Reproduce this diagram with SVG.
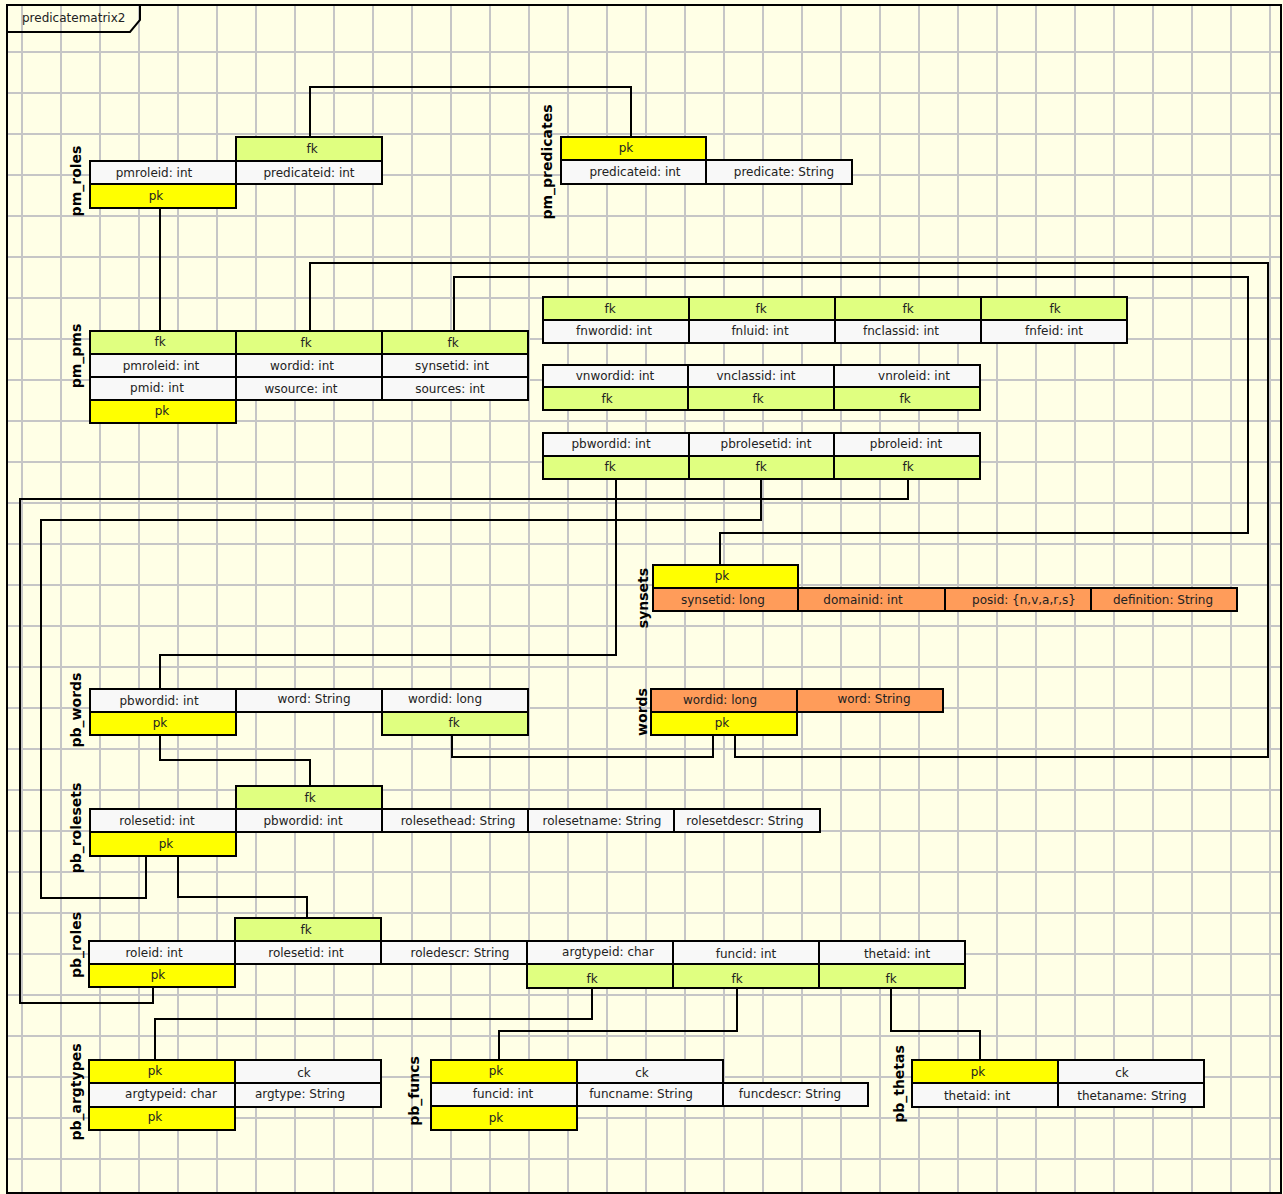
<svg xmlns="http://www.w3.org/2000/svg" width="1283" height="1194" viewBox="0 0 1283 1194">
<style>
rect.c{stroke:#000;stroke-width:2}
.f{fill:#f8f8f8}
.fk{fill:#e0ff80}
.pk{fill:#ffff00}
.o{fill:#ff9c5a}
text{font-family:"DejaVu Sans","Liberation Sans",sans-serif;font-size:12px;fill:#222;text-anchor:middle}
text.lbl{font-weight:bold;font-size:14px;fill:#000}
#grid path{fill:none;stroke:#c6c6c6;stroke-width:2}
#connectors path{fill:none;stroke:#000;stroke-width:2}
</style>
<rect x="0" y="0" width="1283" height="1194" fill="#ffffe6"/>
<g id="grid">
<path d="M22,6V1192M61,6V1192M100,6V1192M139,6V1192M178,6V1192M217,6V1192M256,6V1192M295,6V1192M334,6V1192M373,6V1192M412,6V1192M451,6V1192M490,6V1192M529,6V1192M568,6V1192M607,6V1192M646,6V1192M685,6V1192M724,6V1192M763,6V1192M802,6V1192M841,6V1192M880,6V1192M919,6V1192M958,6V1192M997,6V1192M1036,6V1192M1075,6V1192M1114,6V1192M1153,6V1192M1192,6V1192M1231,6V1192M1270,6V1192"/>
<path d="M8,52H1280M8,93H1280M8,134H1280M8,175H1280M8,216H1280M8,257H1280M8,298H1280M8,339H1280M8,380H1280M8,421H1280M8,462H1280M8,503H1280M8,544H1280M8,585H1280M8,626H1280M8,667H1280M8,708H1280M8,749H1280M8,790H1280M8,831H1280M8,872H1280M8,913H1280M8,954H1280M8,995H1280M8,1036H1280M8,1077H1280M8,1118H1280M8,1159H1280"/>
</g>
<rect x="7" y="5" width="1274" height="1188" fill="none" stroke="#000" stroke-width="2"/>
<path d="M7,5 H140 V20 L130,32 H7" fill="none" stroke="#000" stroke-width="2"/>
<text x="22" y="22" style="text-anchor:start">predicatematrix2</text>

<g id="connectors">
<path d="M310,137 V87 H631 V137"/>
<path d="M160,331 V208"/>
<path d="M310,331 V263 H1268 V757 H735 V735"/>
<path d="M454,331 V277 H1248 V533 H720 V565"/>
<path d="M616,479 V655 H160 V689"/>
<path d="M761,479 V520 H41 V898 H146 V856"/>
<path d="M908,479 V499 H20 V1003 H153 V987"/>
<path d="M452,735 V757 H713 V735"/>
<path d="M160,735 V760 H310 V786"/>
<path d="M178,856 V897 H307 V918"/>
<path d="M592,988 V1019 H155 V1060"/>
<path d="M737,988 V1031 H499 V1060"/>
<path d="M891,988 V1031 H980 V1060"/>
</g>

<g id="pm_roles">
<rect class="c fk" x="236" y="137" width="146" height="24"/><text x="312" y="153">fk</text>
<rect class="c f" x="90" y="161" width="146" height="23"/><text x="154" y="177">pmroleid: int</text>
<rect class="c f" x="236" y="161" width="146" height="23"/><text x="309" y="177">predicateid: int</text>
<rect class="c pk" x="90" y="184" width="146" height="24"/><text x="156" y="200">pk</text>
<text class="lbl" transform="translate(81,181) rotate(-90)">pm_roles</text>
</g>

<g id="pm_predicates">
<rect class="c pk" x="561" y="137" width="145" height="23"/><text x="626" y="152">pk</text>
<rect class="c f" x="561" y="160" width="145" height="24"/><text x="635" y="176">predicateid: int</text>
<rect class="c f" x="706" y="160" width="146" height="24"/><text x="784" y="176">predicate: String</text>
<text class="lbl" transform="translate(552,162) rotate(-90)">pm_predicates</text>
</g>

<g id="pm_pms">
<rect class="c fk" x="90" y="331" width="146" height="23"/><text x="160" y="346">fk</text>
<rect class="c fk" x="236" y="331" width="146" height="23"/><text x="306" y="347">fk</text>
<rect class="c fk" x="382" y="331" width="146" height="23"/><text x="453" y="347">fk</text>
<rect class="c f" x="90" y="354" width="146" height="23"/><text x="161" y="370">pmroleid: int</text>
<rect class="c f" x="236" y="354" width="146" height="23"/><text x="302" y="370">wordid: int</text>
<rect class="c f" x="382" y="354" width="146" height="23"/><text x="452" y="370">synsetid: int</text>
<rect class="c f" x="90" y="377" width="146" height="23"/><text x="157" y="392">pmid: int</text>
<rect class="c f" x="236" y="377" width="146" height="23"/><text x="301" y="393">wsource: int</text>
<rect class="c f" x="382" y="377" width="146" height="23"/><text x="450" y="393">sources: int</text>
<rect class="c pk" x="90" y="400" width="146" height="23"/><text x="162" y="415">pk</text>
<text class="lbl" transform="translate(81,356) rotate(-90)">pm_pms</text>
</g>

<g id="fn_keys">
<rect class="c fk" x="543" y="297" width="146" height="23"/><text x="610" y="313">fk</text>
<rect class="c fk" x="689" y="297" width="146" height="23"/><text x="761" y="313">fk</text>
<rect class="c fk" x="835" y="297" width="146" height="23"/><text x="908" y="313">fk</text>
<rect class="c fk" x="981" y="297" width="146" height="23"/><text x="1055" y="313">fk</text>
<rect class="c f" x="543" y="320" width="146" height="23"/><text x="614" y="335">fnwordid: int</text>
<rect class="c f" x="689" y="320" width="146" height="23"/><text x="760" y="335">fnluid: int</text>
<rect class="c f" x="835" y="320" width="146" height="23"/><text x="901" y="335">fnclassid: int</text>
<rect class="c f" x="981" y="320" width="146" height="23"/><text x="1054" y="335">fnfeid: int</text>
</g>

<g id="vn_keys">
<rect class="c f" x="543" y="365" width="145" height="22"/><text x="615" y="380">vnwordid: int</text>
<rect class="c f" x="688" y="365" width="146" height="22"/><text x="756" y="380">vnclassid: int</text>
<rect class="c f" x="834" y="365" width="146" height="22"/><text x="914" y="380">vnroleid: int</text>
<rect class="c fk" x="543" y="387" width="145" height="23"/><text x="607" y="403">fk</text>
<rect class="c fk" x="688" y="387" width="146" height="23"/><text x="758" y="403">fk</text>
<rect class="c fk" x="834" y="387" width="146" height="23"/><text x="905" y="403">fk</text>
</g>

<g id="pb_keys">
<rect class="c f" x="543" y="433" width="146" height="23"/><text x="611" y="448">pbwordid: int</text>
<rect class="c f" x="689" y="433" width="145" height="23"/><text x="766" y="448">pbrolesetid: int</text>
<rect class="c f" x="834" y="433" width="146" height="23"/><text x="906" y="448">pbroleid: int</text>
<rect class="c fk" x="543" y="456" width="146" height="23"/><text x="610" y="471">fk</text>
<rect class="c fk" x="689" y="456" width="145" height="23"/><text x="761" y="471">fk</text>
<rect class="c fk" x="834" y="456" width="146" height="23"/><text x="908" y="471">fk</text>
</g>

<g id="synsets">
<rect class="c pk" x="653" y="565" width="145" height="23"/><text x="722" y="580">pk</text>
<rect class="c o" x="653" y="588" width="145" height="23"/><text x="723" y="604">synsetid: long</text>
<rect class="c o" x="798" y="588" width="147" height="23"/><text x="863" y="604">domainid: int</text>
<rect class="c o" x="945" y="588" width="146" height="23"/><text x="1024" y="604">posid: {n,v,a,r,s}</text>
<rect class="c o" x="1091" y="588" width="146" height="23"/><text x="1163" y="604">definition: String</text>
<text class="lbl" transform="translate(648,598) rotate(-90)">synsets</text>
</g>

<g id="words">
<rect class="c o" x="651" y="689" width="146" height="23"/><text x="720" y="704">wordid: long</text>
<rect class="c o" x="797" y="689" width="146" height="23"/><text x="874" y="703">word: String</text>
<rect class="c pk" x="651" y="712" width="146" height="23"/><text x="722" y="727">pk</text>
<text class="lbl" transform="translate(647,712) rotate(-90)">words</text>
</g>

<g id="pb_words">
<rect class="c f" x="90" y="689" width="146" height="23"/><text x="159" y="705">pbwordid: int</text>
<rect class="c f" x="236" y="689" width="146" height="23"/><text x="314" y="703">word: String</text>
<rect class="c f" x="382" y="689" width="146" height="23"/><text x="445" y="703">wordid: long</text>
<rect class="c pk" x="90" y="712" width="146" height="23"/><text x="160" y="727">pk</text>
<rect class="c fk" x="382" y="712" width="146" height="23"/><text x="454" y="727">fk</text>
<text class="lbl" transform="translate(81,710) rotate(-90)">pb_words</text>
</g>

<g id="pb_rolesets">
<rect class="c fk" x="236" y="786" width="146" height="23"/><text x="310" y="802">fk</text>
<rect class="c f" x="90" y="809" width="146" height="23"/><text x="157" y="825">rolesetid: int</text>
<rect class="c f" x="236" y="809" width="146" height="23"/><text x="303" y="825">pbwordid: int</text>
<rect class="c f" x="382" y="809" width="146" height="23"/><text x="458" y="825">rolesethead: String</text>
<rect class="c f" x="528" y="809" width="146" height="23"/><text x="602" y="825">rolesetname: String</text>
<rect class="c f" x="674" y="809" width="146" height="23"/><text x="745" y="825">rolesetdescr: String</text>
<rect class="c pk" x="90" y="832" width="146" height="24"/><text x="166" y="848">pk</text>
<text class="lbl" transform="translate(81,828) rotate(-90)">pb_rolesets</text>
</g>

<g id="pb_roles">
<rect class="c fk" x="235" y="918" width="146" height="23"/><text x="306" y="934">fk</text>
<rect class="c f" x="89" y="941" width="146" height="23"/><text x="154" y="957">roleid: int</text>
<rect class="c f" x="235" y="941" width="146" height="23"/><text x="306" y="957">rolesetid: int</text>
<rect class="c f" x="381" y="941" width="146" height="23"/><text x="460" y="957">roledescr: String</text>
<rect class="c f" x="527" y="941" width="146" height="23"/><text x="608" y="956">argtypeid: char</text>
<rect class="c f" x="673" y="941" width="146" height="23"/><text x="746" y="958">funcid: int</text>
<rect class="c f" x="819" y="941" width="146" height="23"/><text x="897" y="958">thetaid: int</text>
<rect class="c pk" x="89" y="964" width="146" height="23"/><text x="158" y="979">pk</text>
<rect class="c fk" x="527" y="964" width="146" height="24"/><text x="592" y="983">fk</text>
<rect class="c fk" x="673" y="964" width="146" height="24"/><text x="737" y="983">fk</text>
<rect class="c fk" x="819" y="964" width="146" height="24"/><text x="891" y="983">fk</text>
<text class="lbl" transform="translate(81,945) rotate(-90)">pb_roles</text>
</g>

<g id="pb_argtypes">
<rect class="c pk" x="89" y="1060" width="146" height="23"/><text x="155" y="1075">pk</text>
<rect class="c f" x="235" y="1060" width="146" height="23"/><text x="304" y="1077">ck</text>
<rect class="c f" x="89" y="1083" width="146" height="24"/><text x="171" y="1098">argtypeid: char</text>
<rect class="c f" x="235" y="1083" width="146" height="24"/><text x="300" y="1098">argtype: String</text>
<rect class="c pk" x="89" y="1107" width="146" height="23"/><text x="155" y="1121">pk</text>
<text class="lbl" transform="translate(81,1092) rotate(-90)">pb_argtypes</text>
</g>

<g id="pb_funcs">
<rect class="c pk" x="431" y="1060" width="146" height="23"/><text x="496" y="1075">pk</text>
<rect class="c f" x="577" y="1060" width="146" height="23"/><text x="642" y="1077">ck</text>
<rect class="c f" x="431" y="1083" width="146" height="23"/><text x="503" y="1098">funcid: int</text>
<rect class="c f" x="577" y="1083" width="146" height="23"/><text x="641" y="1098">funcname: String</text>
<rect class="c f" x="723" y="1083" width="145" height="23"/><text x="790" y="1098">funcdescr: String</text>
<rect class="c pk" x="431" y="1106" width="146" height="24"/><text x="496" y="1122">pk</text>
<text class="lbl" transform="translate(419,1091) rotate(-90)">pb_funcs</text>
</g>

<g id="pb_thetas">
<rect class="c pk" x="912" y="1060" width="146" height="23"/><text x="978" y="1076">pk</text>
<rect class="c f" x="1058" y="1060" width="146" height="23"/><text x="1122" y="1077">ck</text>
<rect class="c f" x="912" y="1083" width="146" height="24"/><text x="977" y="1100">thetaid: int</text>
<rect class="c f" x="1058" y="1083" width="146" height="24"/><text x="1132" y="1100">thetaname: String</text>
<text class="lbl" transform="translate(904,1084) rotate(-90)">pb_thetas</text>
</g>
</svg>
